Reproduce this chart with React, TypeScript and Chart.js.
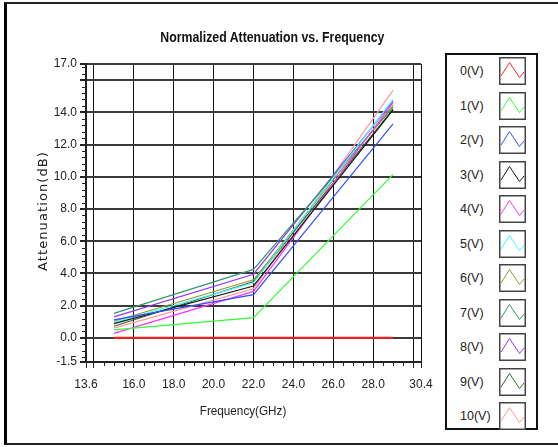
import React, { useEffect, useRef } from "react";
import { Chart, registerables } from "chart.js";
Chart.register(...registerables);

const freqs = [15, 22, 29];
const seriesNames = ["0(V)", "1(V)", "2(V)", "3(V)", "4(V)", "5(V)", "6(V)", "7(V)", "8(V)", "9(V)", "10(V)"];
const v0 = [0, 0, 0];
const v1 = [0.49, 1.25, 10.15];
const v2 = [1.12, 2.68, 13.28];
const v3 = [0.88, 3.22, 14.15];
const v4 = [0.28, 2.88, 14.62];
const v5 = [0.95, 3.42, 14.8];
const v6 = [1.03, 3.6, 14.45];
const v7 = [1.52, 4.25, 14.32];
const v8 = [1.3, 3.95, 14.7];
const v9 = [0.72, 3.5, 14.2];
const v10 = [0.6, 3.05, 15.38];
const seriesValues = [v0, v1, v2, v3, v4, v5, v6, v7, v8, v9, v10];
const seriesColors = ["#ff2020", "#33ff33", "#3350ff", "#1a1a1a", "#ff33ff", "#33ffff", "#999933", "#339966", "#9933ff", "#336633", "#ff9999"];
const seriesWidths = [2, 1.2, 1.2, 1.2, 1.2, 1.2, 1.2, 1.2, 1.2, 1.2, 1.2];
const xTicks = [13.6, 14, 16, 18, 20, 22, 24, 26, 28, 30, 30.4];
const xHidden = [14, 30];
const yTicks = [-1.5, 0, 2, 4, 6, 8, 10, 12, 14, 16, 17];
const yHidden = [16];

const minorTicks = {
  id: "minorTicks",
  afterDraw(chart: any) {
    const { ctx, chartArea, scales } = chart;
    ctx.save();
    ctx.strokeStyle = "#222";
    ctx.lineWidth = 1;
    ctx.beginPath();
    for (let k = -3; k <= 42; k++) {
      const v = k * 0.4;
      if (Math.abs(v / 2 - Math.round(v / 2)) < 1e-6) continue;
      const y = Math.round(scales.y.getPixelForValue(v)) + 0.5;
      ctx.moveTo(chartArea.left - 4, y);
      ctx.lineTo(chartArea.left, y);
    }
    for (let k = 28; k <= 60; k++) {
      const v = k * 0.5;
      if (Math.abs(v / 2 - Math.round(v / 2)) < 1e-6) continue;
      const x = Math.round(scales.x.getPixelForValue(v)) + 0.5;
      ctx.moveTo(x, chartArea.bottom);
      ctx.lineTo(x, chartArea.bottom + 4);
    }
    ctx.stroke();
    ctx.restore();
  },
};

function Swatch({ color }: { color: string }) {
  return (
    <svg width={27} height={28} style={{ display: "block" }}>
      <rect x={0.75} y={0.75} width={25.5} height={26.5} fill="#fff" stroke="#444" strokeWidth={1.5} />
      <polyline points="2,19 10.5,5.5 20.5,20.5 25,15" fill="none" stroke={color} strokeWidth={1} />
    </svg>
  );
}

export default function App() {
  const canvasRef = useRef<HTMLCanvasElement>(null);

  useEffect(() => {
    document.body.style.margin = "0";
    const datasets = seriesNames.map((name, i) => ({
      label: name,
      data: freqs.map((f, j) => ({ x: f, y: seriesValues[i][j] })),
      borderColor: seriesColors[i],
      backgroundColor: seriesColors[i],
      borderWidth: seriesWidths[i],
      pointRadius: 0,
      tension: 0,
      fill: false,
    }));
    const tickFont = { family: "'Liberation Sans', Arial, sans-serif", size: 12 };
    const chart = new Chart(canvasRef.current!, {
      type: "line",
      data: { datasets },
      plugins: [minorTicks],
      options: {
        animation: false,
        responsive: false,
        devicePixelRatio: 1,
        layout: { padding: { top: 64, right: 137, left: 0, bottom: 0 } },
        plugins: { legend: { display: false }, title: { display: false }, tooltip: { enabled: false } },
        scales: {
          x: {
            type: "linear",
            min: 13.6,
            max: 30.4,
            afterFit: (s: any) => { s.height = 85; },
            afterBuildTicks: (s: any) => { s.ticks = xTicks.map((v) => ({ value: v })); },
            ticks: {
              autoSkip: false,
              maxRotation: 0,
              padding: 9,
              color: "#222",
              font: tickFont,
              callback: (v: any) => (xHidden.includes(Number(v)) ? "" : Number(v).toFixed(1)),
            },
            grid: { color: "#111", lineWidth: 1, tickLength: 6, tickColor: "#222" },
            border: { color: "#222", width: 2 },
          },
          y: {
            type: "linear",
            min: -1.5,
            max: 17,
            afterFit: (s: any) => { s.width = 86; },
            afterBuildTicks: (s: any) => { s.ticks = yTicks.map((v) => ({ value: v })); },
            ticks: {
              autoSkip: false,
              padding: 3,
              color: "#222",
              font: tickFont,
              callback: (v: any) => (yHidden.includes(Number(v)) ? "" : Number(v).toFixed(1)),
            },
            grid: { color: "#3a3a3a", lineWidth: 2, tickLength: 6, tickColor: "#222" },
            border: { color: "#222", width: 2 },
          },
        },
      },
    } as any);
    return () => chart.destroy();
  }, []);

  return (
    <div style={{ position: "fixed", left: 0, top: 0, width: 558, height: 447, background: "#fff", overflow: "hidden", fontFamily: "'Liberation Sans', Arial, sans-serif" }}>
      <div style={{ position: "absolute", left: 4, top: 2, width: 560, height: 439, borderLeft: "3px solid #000", borderTop: "2px solid #222", borderBottom: "2px solid #222" }} />
      <canvas ref={canvasRef} width={558} height={447} style={{ position: "absolute", left: 0, top: 0 }} />
      <div style={{ position: "absolute", left: 0, width: 544, top: 29, textAlign: "center", fontWeight: "bold", fontSize: 14, color: "#111", whiteSpace: "nowrap" }}>
        <span style={{ display: "inline-block", transform: "scaleX(0.88)" }}>Normalized Attenuation vs. Frequency</span>
      </div>
      <div style={{ position: "absolute", left: 0, width: 486, top: 403, textAlign: "center", fontSize: 13, color: "#222", whiteSpace: "nowrap" }}>
        <span style={{ display: "inline-block", transform: "scaleX(0.9)" }}>Frequency(GHz)</span>
      </div>
      <div style={{ position: "absolute", left: 43, top: 211, width: 0, height: 0 }}>
        <div style={{ position: "absolute", left: -80, top: -9, width: 160, textAlign: "center", transform: "rotate(-90deg)", fontFamily: "'DejaVu Sans', sans-serif", fontSize: 13, letterSpacing: 1.1, color: "#222", whiteSpace: "nowrap", lineHeight: "18px" }}>
          Attenuation(dB)
        </div>
      </div>
      <div style={{ position: "absolute", left: 445, top: 53, width: 89, height: 373, border: "2px solid #111", background: "#fff" }}>
        {seriesNames.map((name, i) => (
          <div key={name} style={{ position: "absolute", left: 0, top: 2 + i * 34.5, width: 89, height: 28 }}>
            <div style={{ position: "absolute", left: 13, top: 7, fontSize: 12.5, color: "#222", whiteSpace: "nowrap" }}>{name}</div>
            <div style={{ position: "absolute", left: 52, top: 0 }}>
              <Swatch color={seriesColors[i]} />
            </div>
          </div>
        ))}
      </div>
    </div>
  );
}
